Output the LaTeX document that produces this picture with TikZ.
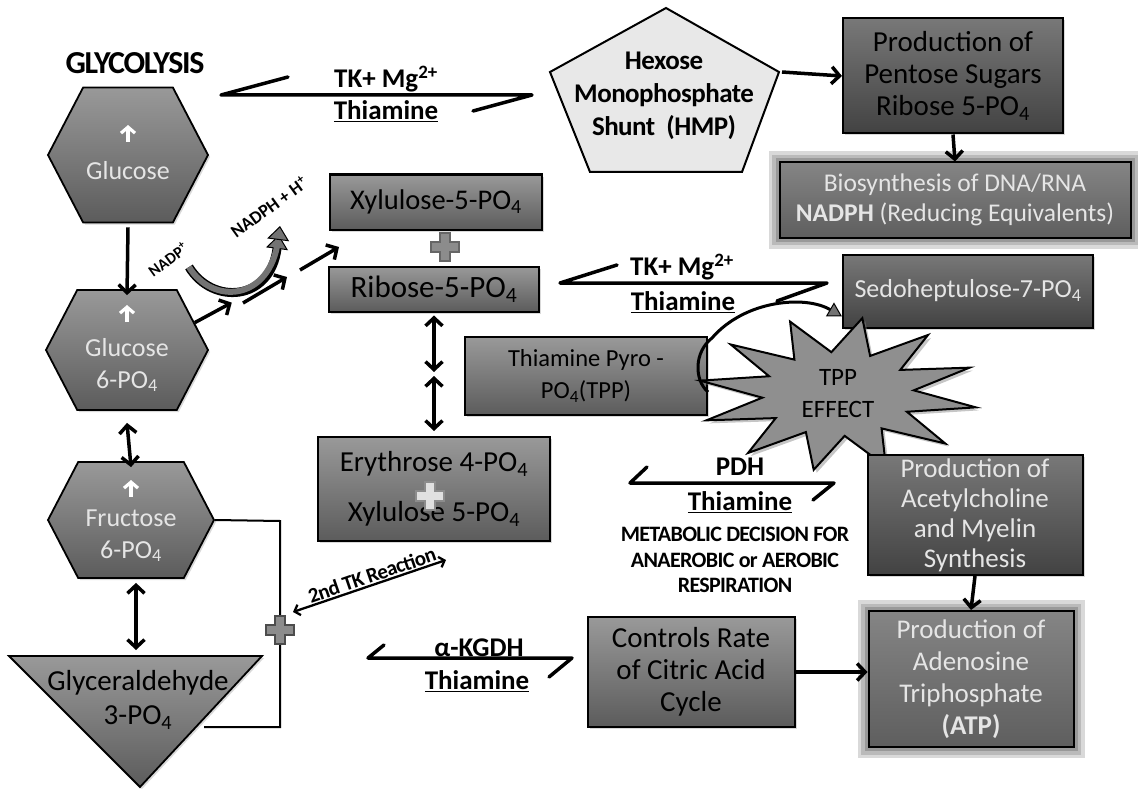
\documentclass[tikz,border=0pt]{standalone}
\usepackage{fontspec}
\setmainfont{Carlito}
\usepackage{tikz}
\usetikzlibrary{positioning, shapes.symbols, shapes.geometric, arrows.meta, calc, shadows}

\definecolor{boxtop}{gray}{0.60}
\definecolor{boxbot}{gray}{0.36}
\definecolor{darktop}{gray}{0.47}
\definecolor{darkbot}{gray}{0.26}
\definecolor{midtop}{gray}{0.52}
\definecolor{midbot}{gray}{0.37}
\definecolor{lighttext}{gray}{0.90}
\definecolor{pentfill}{gray}{0.91}
\definecolor{starfill}{gray}{0.56}
\definecolor{plusfill}{gray}{0.55}

\newcommand{\boxtext}[1]{\fontsize{#1}{32}\selectfont}
\newcommand{\labeltext}{\fontsize{27}{32}\selectfont\bfseries}
\newcommand{\smalllabel}[1]{\fontsize{#1}{25.5}\selectfont\bfseries\addfontfeature{LetterSpace=-3}}
\newcommand{\arrowroom}{\rule{0pt}{16pt}}

\tikzset{
  >={Straight Barb[length=8pt,width=17pt]},
  hexnode/.style={signal, signal to=east and west, signal pointer angle=125,
    draw=black, line width=1.8pt, top color=boxtop, bottom color=boxbot,
    text=lighttext, align=center, font=\boxtext{26}, inner sep=0pt,
    drop shadow={opacity=0.3, shadow xshift=2pt, shadow yshift=-2pt}},
  hexarrow/.style={white, line width=3.2pt, -{Straight Barb[length=6pt,width=14pt]}},
  procbox/.style={rectangle, draw=black, line width=2pt, top color=boxtop,
    bottom color=boxbot, text=black, align=center, font=\boxtext{26}, inner sep=1pt,
    drop shadow={opacity=0.3, shadow xshift=2pt, shadow yshift=-2pt}},
  darkbox/.style={top color=darktop, bottom color=darkbot},
  midbox/.style={top color=midtop, bottom color=midbot, text=lighttext},
  glow/.style={preaction={draw=black!15, line width=22pt, rounded corners=11pt},
    preaction={draw=black!27, line width=15pt, rounded corners=7pt},
    preaction={draw=black!40, line width=8pt, rounded corners=3pt}},
  flow/.style={->, line width=3.5pt},
  flowboth/.style={<->, line width=3.5pt},
  eqline/.style={line width=3.5pt, line join=round, line cap=round},
  link/.style={line width=2pt},
  lbl/.style={font=\labeltext, align=center, inner sep=0pt},
  plussign/.pic={\path[pic actions, line width=1.3pt]
    (-5,-14) -- (5,-14) -- (5,-5) -- (14,-5) -- (14,5) -- (5,5) -- (5,14)
    -- (-5,14) -- (-5,5) -- (-14,5) -- (-14,-5) -- (-5,-5) -- cycle;}
}

\begin{document}
\begin{tikzpicture}[x=1pt, y=-1pt]
  \useasboundingbox (0,0) rectangle (1138,789);

  % Glycolysis column
  \node[lbl, font=\fontsize{32}{32}\selectfont\bfseries\addfontfeature{LetterSpace=-4}] (glyco) at (135,63) {GLYCOLYSIS};
  \node[hexnode, minimum width=160, minimum height=135] (glc) at (128,155) {\arrowroom\\[1pt]Glucose};
  \node[hexnode, minimum width=162, minimum height=120] (glc6) at (127,350) {\arrowroom\\[0pt]Glucose\\6-PO\textsubscript{4}};
  \node[hexnode, minimum width=166, minimum height=116] (fru) at (131,520) {\arrowroom\\[0pt]Fructose\\6-PO\textsubscript{4}};
  \draw[hexarrow] ([yshift=13pt]glc.center) -- ++(0,-17);
  \draw[hexarrow] ([yshift=28pt]glc6.center) -- ++(0,-17);
  \draw[hexarrow] ([yshift=23pt]fru.center) -- ++(0,-17);

  % Glyceraldehyde triangle
  \draw[line width=1.8pt, top color=boxtop, bottom color=boxbot,
    drop shadow={opacity=0.3, shadow xshift=2pt, shadow yshift=-2pt}]
    (9,656) -- (262,656) -- (140,787) -- cycle;
  \coordinate (glytop) at (136,656);
  \node[font=\fontsize{29}{34}\selectfont, align=center, inner sep=0pt] (gly) at (138,700) {Glyceraldehyde\\3-PO\textsubscript{4}};

  \draw[flow] ([yshift=-4pt]glc.south) -- ([yshift=-6pt]glc6.north);
  \draw[flowboth] ([yshift=-12pt]glc6.south) -- ([yshift=-6pt]fru.north);
  \draw[flowboth] ([xshift=5pt,yshift=-4pt]fru.south) -- ([yshift=6pt]glytop);

  % fructose / glyceraldehyde link
  \coordinate (linkR) at (280,521);
  \coordinate (linkB) at (280,727);
  \draw[link] (fru.east) -- (linkR) -- (linkB) -- (204,727);
  \pic[fill=plusfill, draw=black!70] at (280,630) {plussign};
  \coordinate (tkA) at (293,612);
  \coordinate (tkB) at (446,560);
  \draw[line width=2.3pt, {Straight Barb[length=5pt,width=11pt]}-{Straight Barb[length=5pt,width=11pt]}] (tkA) -- (tkB);
  \node[font=\smalllabel{21}, rotate=19, inner sep=0pt] (tk2nd) at (372,575) {2nd TK Reaction};

  % top TK arrow and HMP shunt
  \draw[eqline] (288,77) -- (221,95) -- (532,95) -- (473,111);
  \node[lbl] (tk1) at (386,79) {TK+ Mg\textsuperscript{2+}};
  \node[lbl] (th1) at (386,111) {\underline{Thiamine}};

  \draw[line width=2pt, fill=pentfill] (666,8) -- (779,72) -- (742,172) -- (590,172) -- (550,72) -- cycle;
  \coordinate (hmpR) at (779,72);
  \node[lbl, font=\fontsize{27}{33}\selectfont\bfseries\addfontfeature{LetterSpace=-2}] (hmp) at (664,96) {Hexose\\Monophosphate\\Shunt\ \ (HMP)};

  \node[procbox, darkbox, font=\boxtext{29}, minimum width=220, minimum height=115] (pent) at (953,76)
    {Production of\\Pentose Sugars\\Ribose 5-PO\textsubscript{4}};
  \draw[flow] ([xshift=3pt]hmpR) -- (pent.west);
  \node[procbox, midbox, glow, font=\fontsize{25.5}{30}\selectfont, minimum width=351, minimum height=75] (bio) at (955,200)
    {Biosynthesis of DNA/RNA\\\textbf{NADPH} (Reducing Equivalents)};
  \draw[flow] (pent.south) -- (bio.north);

  % pentose phosphate side
  \node[procbox, font=\boxtext{28.5}, minimum width=212, minimum height=55] (xyl) at (436,202) {Xylulose-5-PO\textsubscript{4}};
  \pic[fill=plusfill, draw=black!60] at (445,247) {plussign};
  \node[procbox, font=\boxtext{31}, minimum width=210, minimum height=45] (rib) at (434,289) {Ribose-5-PO\textsubscript{4}};

  % NADP+ curved arrow
  \draw[line width=6pt, draw=black!55, preaction={draw=black, line width=9pt, shorten >=9pt},
    -{Triangle[length=14pt, width=22pt, color=black, fill=black!55, line width=1pt]}]
    (189,267) .. controls (212,305) and (270,302) .. (280,226);
  \node[font=\fontsize{16}{16}\selectfont\bfseries, rotate=36, inner sep=0pt] (nadp) at (168,259) {NADP\textsuperscript{+}};
  \node[font=\fontsize{18}{18}\selectfont\bfseries, rotate=36, inner sep=0pt] (nadph) at (269,207) {NADPH + H\textsuperscript{+}};
  \draw[flow] (glc6.22) -- ++(37,-20);
  \draw[flow] (243,303) -- (287,277);
  \draw[flow] (300,270) -- (339,247);

  \node[procbox, font=\boxtext{29}, minimum width=232, minimum height=104] (ery) at (434,489)
    {Erythrose 4-PO\textsubscript{4}\\[18pt]Xylulose 5-PO\textsubscript{4}};
  \pic[fill=black!12, draw=black!45] at (430,496) {plussign};
  \coordinate (ribery) at (434,374);
  \draw[flowboth] ([yshift=-3pt]rib.south) -- ([yshift=2pt]ribery);
  \draw[flowboth] ([yshift=-2pt]ribery) -- ([yshift=5pt]ery.north);

  % second TK arrow
  \draw[eqline] (617,265) -- (560,283) -- (827,283) -- (777,301);
  \node[lbl] (tk2) at (682,267) {TK+ Mg\textsuperscript{2+}};
  \node[lbl] (th2) at (683,302) {\underline{Thiamine}};
  \node[procbox, darkbox, text=lighttext, minimum width=250, minimum height=73] (sedo) at (968,291)
    {Sedoheptulose-7-PO\textsubscript{4}};

  % TPP
  \node[procbox, font=\boxtext{24.5}, minimum width=242, minimum height=78] (tppbox) at (586,376)
    {Thiamine Pyro -\\PO\textsubscript{4}(TPP)};
  \coordinate (tppc) at (838,394);
  \draw[line width=2pt, fill=starfill, line join=miter,
    drop shadow={opacity=0.45, shadow xshift=3pt, shadow yshift=-3pt}]
    ($(tppc)+(10:140 and 77)$)
    \foreach \i in {1,...,23} {
      -- ($(tppc)+({\i*15+10}:{ifthenelse(isodd(\i),76,140)} and {ifthenelse(isodd(\i),42,77)})$)
    } -- cycle;
  \node[font=\fontsize{25}{32}\selectfont, align=center, inner sep=0pt] (tpp) at (tppc) {TPP\\EFFECT};
  \draw[line width=3pt, -{Triangle[length=14pt, width=16pt, color=black, fill=black!55, line width=1pt]}]
    ([yshift=-16pt]tppbox.east) .. controls (694,380) and (694,352) .. (712,338)
    .. controls (745,300) and (805,295) .. ([yshift=12pt]sedo.south west);

  % PDH
  \draw[eqline] (647,467) -- (630,483) -- (834,483) -- (813,500);
  \node[lbl] (pdh) at (740,467) {PDH};
  \node[lbl] (th3) at (740,502) {\underline{Thiamine}};
  \node[font=\smalllabel{22}, align=center, inner sep=0pt] (decision) at (735,560)
    {METABOLIC DECISION FOR\\ANAEROBIC or AEROBIC\\RESPIRATION};

  \node[procbox, darkbox, text=lighttext, font=\fontsize{27}{30}\selectfont, minimum width=215, minimum height=120] (acetyl) at (975,515)
    {Production of\\Acetylcholine\\and Myelin\\Synthesis};
  \node[procbox, midbox, glow, font=\boxtext{27}, minimum width=205, minimum height=136] (atp) at (971,679)
    {Production of\\Adenosine\\Triphosphate\\\textbf{(ATP)}};
  \draw[flow] (acetyl.south) -- (atp.north);

  % alpha-KGDH
  \draw[eqline] (384,645) -- (368,658) -- (572,658) -- (549,677);
  \node[lbl] (kgdh) at (479,648) {α-KGDH};
  \node[lbl] (th4) at (477,681) {\underline{Thiamine}};
  \node[procbox, font=\boxtext{29}, minimum width=207, minimum height=110] (ctrl) at (691,672)
    {Controls Rate\\of Citric Acid\\Cycle};
  \draw[flow] (ctrl.east) -- (ctrl.east -| atp.west);
\end{tikzpicture}
\end{document}
